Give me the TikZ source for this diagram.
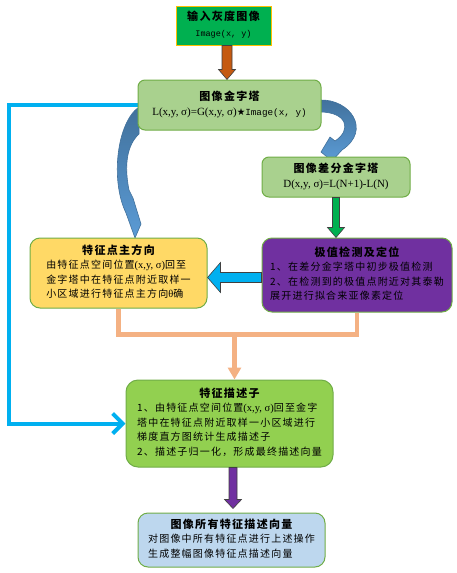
\documentclass[tikz,border=0pt]{standalone}
\usepackage{fontspec}
\setmainfont{Liberation Serif}
\newfontfamily\cjk{Noto Sans CJK SC}[LetterSpace=12]
\newfontfamily\mono{Liberation Mono}
\newfontfamily\sym{DejaVu Sans}
\usetikzlibrary{calc,arrows.meta}
\pgfdeclarelayer{bg}
\pgfsetlayers{bg,main}
\definecolor{gIn}{HTML}{00B050}
\definecolor{oIn}{HTML}{FFC000}
\definecolor{gLt}{HTML}{A9D18E}
\definecolor{gBd}{HTML}{70AD47}
\definecolor{pur}{HTML}{7030A0}
\definecolor{yel}{HTML}{FFD966}
\definecolor{gMd}{HTML}{92D050}
\definecolor{bLt}{HTML}{BDD7EE}
\definecolor{bCy}{HTML}{00B0F0}
\definecolor{org}{HTML}{F4B183}
\definecolor{brn}{HTML}{C55A11}
\definecolor{cvF}{HTML}{5B9BD5}
\definecolor{cvD}{HTML}{41719C}
\definecolor{olk}{HTML}{404040}
\newcommand\C[1]{{\cjk #1}}
\newcommand\R[1]{{\fontsize{10.5}{14.5}\selectfont #1}}
\newcommand\titf{\fontsize{11}{14.5}\selectfont\cjk\bfseries}
\newcommand\boxtext[2]{\begin{tabular}{@{}l@{}}\multicolumn{1}{@{}c@{}}{\titf #1}\\ #2\end{tabular}}
\newcommand\ctext[2]{\begin{tabular}{@{}c@{}}{\titf #1}\\ #2\end{tabular}}
\newcommand\vblock[6]{%
  \draw[#1] ($(#2)+(-#4,0)$) -- ($(#3)+(-#4,-#6)$) -- ($(#3)+(-#5,-#6)$) -- (#3)
    -- ($(#3)+(#5,-#6)$) -- ($(#3)+(#4,-#6)$) -- ($(#2)+(#4,0)$) -- cycle;}
\begin{document}
\begin{tikzpicture}[x=1pt,y=-1pt,
  bx/.style={draw=gBd, line width=1pt, rounded corners=8pt, inner sep=0pt,
    font=\fontsize{10}{14.5}\selectfont},
  blk/.style={draw=olk, line width=0.6pt, line join=miter},
  curv/.style={draw=cvD, line width=0.6pt, top color=cvD, bottom color=cvF},
  orl/.style={draw=org, line width=4.5pt, line join=miter},
  bll/.style={draw=bCy, line width=4pt, line join=miter}]
\useasboundingbox (0,0) rectangle (456,573);

% curved arrows (behind boxes)
\draw[curv] (139,107) .. controls (117,122) and (110,180) .. (126,213) -- (135,238)
  -- (141,224) -- (133,198) -- (129,190) .. controls (124,165) and (127,145) .. (139,134) -- cycle;
\draw[curv] (320,100) .. controls (350,99) and (372,130) .. (342,150) -- (332,161)
  -- (321,152) -- (330,137) -- (335,141) .. controls (352,130) and (347,112) .. (320,112) -- cycle;

\coordinate (bl) at (9,300);

% boxes
\node[draw=oIn, line width=1pt, fill=gIn, inner sep=0pt, minimum width=95pt, minimum height=39pt,
  font=\fontsize{10}{16}\selectfont] (inp) at (223.5,25.5)
  {\begin{tabular}{@{}c@{}}{\titf 输入灰度图像}\\
   {\mono\fontsize{8.5}{16}\selectfont Image(x, y)}\end{tabular}};

\node[bx, fill=gLt, minimum width=183pt, minimum height=50pt, rounded corners=7pt] (pyr) at (229.5,105)
  {\ctext{图像金字塔}{{\fontsize{11}{14.5}\selectfont L(x,y, σ)=G(x,y, σ)}{\sym\fontsize{9.5}{14.5}\selectfont ★}{\mono\fontsize{9.3}{14.5}\selectfont Image(x, y)}}};

\node[bx, fill=gLt, minimum width=148pt, minimum height=40pt, rounded corners=7pt] (dog) at (336,177)
  {\ctext{图像差分金字塔}{{\fontsize{11}{14.5}\selectfont D(x,y, σ)=L(N+1)-L(N)}}};

\node[bx, fill=yel, minimum width=177pt, minimum height=70pt, rounded corners=10pt] (ori) at (118.5,273)
  {\boxtext{特征点主方向}{\C{由特征点空间位置}\R{(x,y, σ)}\C{回至}\\ \C{金字塔中在特征点附近取样一}\\ \C{小区域进行特征点主方向}\R{θ}\C{确}}};

\node[bx, fill=pur, minimum width=190pt, minimum height=74pt, rounded corners=10pt] (ext) at (357,275)
  {\boxtext{极值检测及定位}{\C{1、在差分金字塔中初步极值检测}\\ \C{2、在检测到的极值点附近对其泰勒}\\ \C{展开进行拟合来亚像素定位}}};

\node[bx, fill=gMd, minimum width=207pt, minimum height=87pt, rounded corners=12pt] (desc) at (229.5,423.5)
  {\boxtext{特征描述子}{\C{1、由特征点空间位置}\R{(x,y, σ)}\C{回至金字}\\ \C{塔中在特征点附近取样一小区域进行}\\ \C{梯度直方图统计生成描述子}\\ \C{2、描述子归一化，形成最终描述向量}}};

\node[bx, fill=bLt, minimum width=187pt, minimum height=54pt, rounded corners=10pt] (fin) at (231.5,540)
  {\boxtext{图像所有特征描述向量}{\C{对图像中所有特征点进行上述操作}\\ \C{生成整幅图像特征点描述向量}}};

% blue feedback line (behind boxes)
\begin{pgfonlayer}{bg}
\draw[bll, -{Straight Barb[length=10pt,width=20pt]}] (pyr.west) -| (bl) |- (desc.west);
\end{pgfonlayer}

% block arrows
\coordinate (a1) at ($(inp.south)+(3.5,0)$);
\coordinate (a2) at (a1 |- pyr.north);
\vblock{blk, fill=brn}{a1}{a2}{5}{8.5}{10}

\coordinate (g1) at (dog.south);
\coordinate (g2) at (dog.south |- ext.north);
\vblock{blk, fill=gIn}{g1}{g2}{3.5}{8.5}{10}

\coordinate (p1) at ($(desc.south -| fin.north)+(1.5,0)$);
\coordinate (p2) at ($(fin.north)+(1.5,-4)$);
\vblock{blk, fill=pur}{p1}{p2}{4}{8.5}{9}

\coordinate (h1) at ($(ext.west)+(0,2.5)$);
\coordinate (h2) at (h1 -| ori.east);
\draw[blk, fill=bCy] ($(h1)+(0,-5)$) -- ($(h2)+(13,-5)$) -- ($(h2)+(13,-15)$) -- (h2)
  -- ($(h2)+(13,15)$) -- ($(h2)+(13,5)$) -- ($(h1)+(0,5)$) -- cycle;

% orange merge connector
\coordinate (om) at (234.5,334.5);
\draw[orl] (ori.south) |- (om) -| (ext.south);
\draw[orl, -{Triangle[width=13pt,length=12pt]}] (om) -- (om |- desc.north);
\end{tikzpicture}
\end{document}
